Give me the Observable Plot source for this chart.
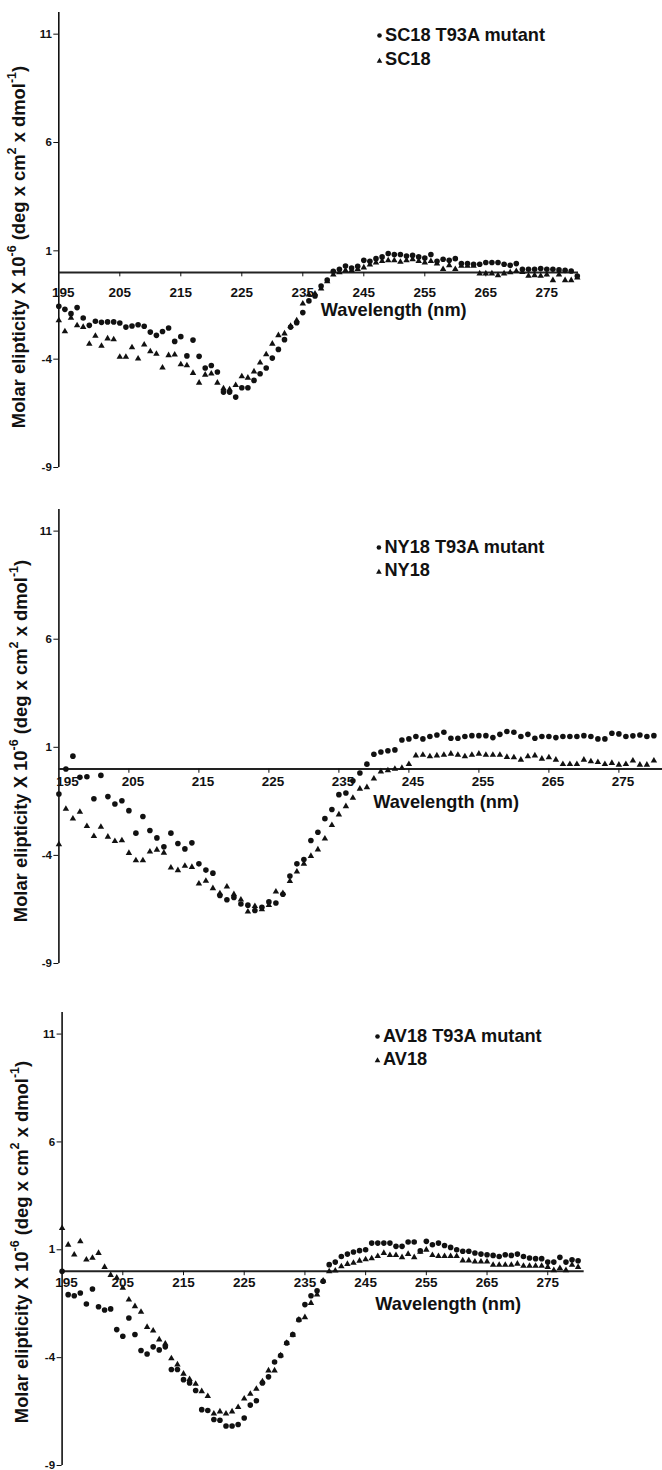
<!DOCTYPE html>
<html>
<head>
<meta charset="utf-8">
<script src="https://cdn.jsdelivr.net/npm/d3@7"></script>
<script src="https://cdn.jsdelivr.net/npm/@observablehq/plot@0.6"></script>
<style>
  html, body { margin: 0; padding: 0; background: #fff; }
  #root { position: relative; width: 662px; height: 1470px; overflow: hidden; }
  .panel { position: absolute; left: 0; width: 662px; height: 490px; }
  .panel svg { overflow: visible; }
</style>
</head>
<body>
<div id="root"></div>
<script>
// Wavelength (nm), one reading per nm
const wavelength = [195,196,197,198,199,200,201,202,203,204,205,206,207,208,209,210,211,212,213,214,215,216,217,218,219,220,221,222,223,224,225,226,227,228,229,230,231,232,233,234,235,236,237,238,239,240,241,242,243,244,245,246,247,248,249,250,251,252,253,254,255,256,257,258,259,260,261,262,263,264,265,266,267,268,269,270,271,272,273,274,275,276,277,278,279,280];

// Tick labels
const xTicks = [195, 205, 215, 225, 235, 245, 255, 265, 275];
const yTicks = [11, 6, 1, -4, -9];

// Molar ellipticity x 10^-6 — panel 1
const sc18Mutant = [-1.56,-1.70,-1.90,-1.62,-2.10,-2.44,-2.25,-2.30,-2.28,-2.28,-2.33,-2.52,-2.47,-2.41,-2.48,-2.75,-2.90,-2.72,-2.56,-3.18,-2.96,-3.85,-3.12,-3.87,-4.41,-4.29,-4.59,-5.52,-5.52,-5.75,-5.32,-5.32,-4.98,-4.67,-4.41,-3.95,-3.55,-3.10,-2.52,-2.32,-1.85,-1.31,-1.08,-0.62,-0.35,0.06,0.15,0.30,0.21,0.29,0.56,0.52,0.64,0.72,0.87,0.83,0.83,0.76,0.79,0.72,0.67,0.83,0.52,0.61,0.56,0.64,0.41,0.41,0.38,0.38,0.46,0.46,0.46,0.38,0.33,0.41,0.15,0.15,0.15,0.18,0.15,0.15,0.12,0.10,0.07,-0.16];
const sc18 = [-2.21,-2.72,-2.10,-2.44,-2.52,-3.30,-2.93,-3.39,-3.05,-3.09,-3.90,-3.90,-3.46,-3.98,-3.33,-3.64,-3.76,-4.39,-3.82,-3.79,-4.24,-4.29,-4.64,-5.09,-4.72,-4.67,-5.09,-5.35,-5.40,-5.20,-4.80,-4.86,-4.57,-4.16,-3.78,-3.29,-2.90,-2.82,-2.47,-2.21,-1.44,-1.02,-0.98,-0.74,-0.41,-0.10,0.00,0.10,0.10,0.15,0.23,0.36,0.46,0.52,0.56,0.56,0.49,0.56,0.61,0.52,0.46,0.52,0.41,0.15,0.33,0.15,0.30,0.30,0.30,-0.05,-0.05,-0.05,-0.13,-0.05,0.00,0.06,0.02,-0.16,-0.13,-0.16,-0.10,-0.36,-0.10,-0.36,-0.36,-0.24];

// panel 2
const ny18Mutant = [-1.16,0.00,0.59,-0.39,-0.36,-1.38,-0.30,-1.28,-1.62,-1.47,-1.93,-2.97,-2.20,-2.85,-3.19,-3.60,-2.97,-3.45,-3.70,-3.42,-4.39,-4.68,-4.82,-5.85,-6.05,-5.95,-6.25,-6.30,-6.55,-6.40,-6.15,-6.20,-5.80,-4.95,-4.39,-4.19,-3.31,-2.93,-2.30,-1.88,-1.19,-1.11,-0.55,-0.19,0.22,0.68,0.78,0.84,0.88,1.34,1.39,1.50,1.39,1.50,1.57,1.70,1.42,1.42,1.50,1.54,1.54,1.54,1.45,1.60,1.73,1.70,1.50,1.60,1.42,1.50,1.50,1.45,1.50,1.50,1.50,1.54,1.50,1.39,1.39,1.65,1.62,1.50,1.53,1.57,1.50,1.54];
const ny18 = [-3.49,-1.85,-2.30,-1.99,-2.65,-3.11,-2.68,-3.14,-3.34,-3.31,-3.89,-4.23,-4.23,-3.83,-3.74,-3.88,-4.57,-4.69,-4.49,-4.54,-5.31,-5.18,-5.52,-5.76,-5.45,-5.80,-6.05,-6.60,-6.35,-6.50,-6.30,-5.68,-5.75,-5.19,-4.75,-4.39,-4.03,-3.73,-3.23,-2.60,-2.11,-1.73,-1.34,-0.92,-0.85,-0.45,-0.12,-0.07,0.00,0.04,0.22,0.62,0.65,0.58,0.62,0.65,0.70,0.65,0.58,0.65,0.70,0.65,0.65,0.65,0.55,0.53,0.42,0.58,0.62,0.47,0.53,0.42,0.22,0.22,0.22,0.42,0.35,0.31,0.22,0.27,0.19,0.22,0.38,0.19,0.19,0.38];

// panel 3
const av18Mutant = [0.00,-1.08,-1.13,-1.00,-1.51,-0.82,-1.64,-1.79,-1.74,-2.70,-3.01,-2.16,-2.93,-3.67,-3.83,-3.50,-3.64,-3.50,-4.55,-4.55,-5.02,-5.17,-5.52,-6.41,-6.45,-6.87,-6.90,-7.17,-7.17,-7.10,-6.80,-6.20,-6.00,-5.17,-4.89,-4.20,-3.90,-3.32,-2.93,-2.24,-1.54,-1.13,-0.90,-0.46,0.31,0.43,0.69,0.80,0.90,0.96,1.00,1.31,1.31,1.31,1.31,1.16,1.16,1.36,1.36,0.95,1.39,1.23,1.31,1.20,1.11,1.00,0.93,0.93,0.85,0.80,0.77,0.74,0.69,0.77,0.74,0.80,0.69,0.62,0.59,0.59,0.43,0.43,0.65,0.43,0.54,0.49];
const av18 = [2.00,1.23,0.77,1.39,0.54,0.62,0.85,0.20,-0.17,-0.30,-0.77,-1.31,-1.62,-1.88,-2.58,-2.75,-3.16,-3.35,-4.04,-4.32,-4.75,-5.00,-5.22,-5.56,-5.79,-6.60,-6.50,-6.60,-6.50,-6.30,-5.90,-5.68,-5.45,-5.10,-4.60,-4.60,-3.90,-3.32,-2.95,-2.24,-2.13,-1.47,-1.08,-0.43,0.00,0.03,0.23,0.34,0.39,0.49,0.55,0.60,0.70,0.85,0.75,0.75,0.65,0.80,0.65,0.90,1.00,0.75,0.70,0.70,0.70,0.70,0.50,0.50,0.45,0.45,0.45,0.30,0.30,0.30,0.30,0.35,0.25,0.25,0.25,0.25,0.20,0.05,0.15,0.05,0.30,0.20];

const mutantNames = ["SC18 T93A mutant", "NY18 T93A mutant", "AV18 T93A mutant"];
const wildNames = ["SC18", "NY18", "AV18"];

const FONT = "'Liberation Sans', Arial, Helvetica, sans-serif";
const INK = "#111";

const panels = [
  { mutant: sc18Mutant, wild: sc18, i: 0, top: 0,   ml: 58.3, mr: 85.2, mt: 12, mb: 23, xMax: 280,    lineEnd: 280.2,  tickDy: 20,   tickDx: 0, wlStart: 237.95, wlDy: 38, legDx: 320.7, legDy: 23, legGap: 24,   ylabY: 247, ylabX: 20 },
  { mutant: ny18Mutant, wild: ny18, i: 1, top: 490, ml: 58.4, mr: 0,    mt: 19, mb: 17, xMax: 281.23, lineEnd: 281.23, tickDy: 12.5, tickDx: 4, wlStart: 239.9,  wlDy: 33, legDx: 320,   legDy: 38, legGap: 23,   ylabY: 251, ylabX: 22 },
  { mutant: av18Mutant, wild: av18, i: 2, top: 980, ml: 61.6, mr: 84.4, mt: 32, mb: 5,  xMax: 280,    lineEnd: 281,    tickDy: 11,   tickDx: 0, wlStart: 246.6,  wlDy: 33, legDx: 315.4, legDy: 24, legGap: 22.5, ylabY: 262, ylabX: 23 }
];

const root = document.getElementById("root");

for (const p of panels) {
  const mut = wavelength.map((w, k) => ({ w, v: p.mutant[k] }));
  const wild = wavelength.map((w, k) => ({ w, v: p.wild[k] }));
  const svg = Plot.plot({
    width: 662,
    height: 490,
    marginLeft: p.ml,
    marginRight: p.mr,
    marginTop: p.mt,
    marginBottom: p.mb,
    style: { fontFamily: FONT, fontWeight: "bold", fontSize: "11.5px", color: INK, background: "transparent", overflow: "visible" },
    x: { domain: [195, p.xMax], axis: null },
    y: { domain: [-9, 12], ticks: yTicks, tickSize: 5, tickPadding: 2, tickFormat: d => String(d), label: null },
    marks: [
      Plot.ruleX([195], { y1: -9, y2: 12, stroke: INK, strokeWidth: 1.6 }),
      Plot.ruleY([0], { x1: 195, x2: p.lineEnd, stroke: "#222", strokeWidth: 2 }),
      Plot.ruleX(xTicks.slice(1), { x: d => d, y1: 0, y2: -0.2, stroke: INK, strokeWidth: 1 }),
      // first label sits just right of the y-axis line, the rest centred on their ticks
      Plot.text(xTicks.slice(0, 1), { x: d => d, y: 0, dx: p.tickDx + 4.5, dy: p.tickDy, text: d => String(d), fontSize: 13.5, fontWeight: "bold", fill: INK }),
      Plot.text(xTicks.slice(1), { x: d => d, y: 0, dx: p.tickDx, dy: p.tickDy, text: d => String(d), fontSize: 13.5, fontWeight: "bold", fill: INK }),
      Plot.text(["Wavelength (nm)"], { x: () => p.wlStart, y: () => 0, dy: p.wlDy, text: d => d, textAnchor: "start", fontSize: 18.2, fontWeight: "bold", fill: INK }),
      Plot.dot(wild, { x: "w", y: "v", symbol: "triangle", r: 2.4, fill: INK, stroke: "none" }),
      Plot.dot(mut, { x: "w", y: "v", symbol: "circle", r: 2.8, fill: INK, stroke: "none" }),
      // legend
      Plot.dot([mutantNames[p.i]], { frameAnchor: "top-left", dx: p.legDx, dy: p.legDy, r: 2.3, symbol: "circle", fill: INK }),
      Plot.text([mutantNames[p.i]], { frameAnchor: "top-left", lineAnchor: "middle", dx: p.legDx + 5.5, dy: p.legDy, text: d => d, textAnchor: "start", fontSize: 18.2, fontWeight: "bold", fill: INK }),
      Plot.dot([wildNames[p.i]], { frameAnchor: "top-left", dx: p.legDx, dy: p.legDy + p.legGap + 1.5, r: 2.1, symbol: "triangle", fill: INK }),
      Plot.text([wildNames[p.i]], { frameAnchor: "top-left", lineAnchor: "middle", dx: p.legDx + 5.5, dy: p.legDy + p.legGap, text: d => d, textAnchor: "start", fontSize: 18.2, fontWeight: "bold", fill: INK })
    ]
  });

  // rotated y-axis title with superscripts
  const t = d3.select(svg).append("text")
    .attr("transform", `translate(${p.ylabX},${p.ylabY}) rotate(-90)`)
    .attr("text-anchor", "middle")
    .attr("dominant-baseline", "middle")
    .attr("font-family", FONT)
    .attr("font-weight", "bold")
    .attr("font-size", 18.4)
    .attr("fill", INK);
  t.append("tspan").text("Molar elipticity X 10");
  t.append("tspan").attr("dy", -7).attr("font-size", 12.5).text("-6");
  t.append("tspan").attr("dy", 7).text(" (deg x cm");
  t.append("tspan").attr("dy", -7).attr("font-size", 12.5).text("2");
  t.append("tspan").attr("dy", 7).text(" x dmol");
  t.append("tspan").attr("dy", -7).attr("font-size", 12.5).text("-1");
  t.append("tspan").attr("dy", 7).text(")");

  const div = document.createElement("div");
  div.className = "panel";
  div.style.top = p.top + "px";
  div.appendChild(svg);
  root.appendChild(div);
}
</script>
</body>
</html>
